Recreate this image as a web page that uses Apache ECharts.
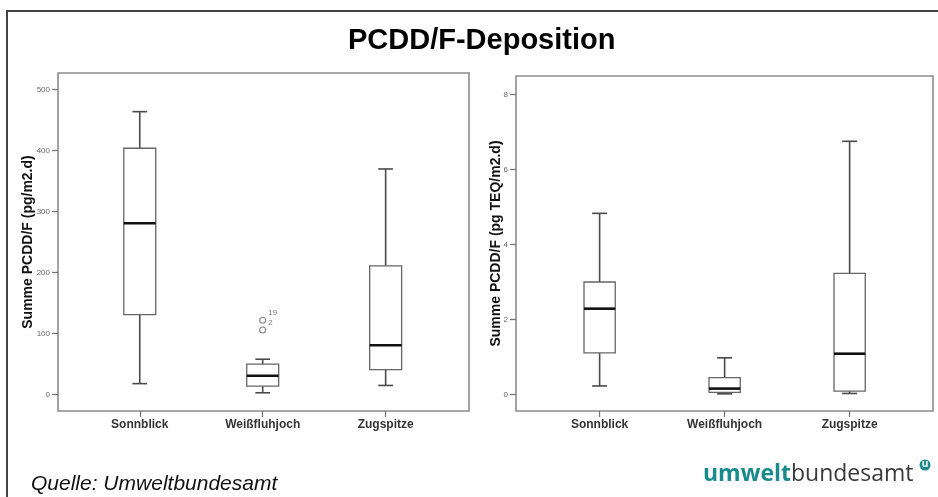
<!DOCTYPE html>
<html>
<head>
<meta charset="utf-8">
<script src="https://cdn.jsdelivr.net/npm/echarts@6/dist/echarts.min.js"></script>
<style>
html,body{margin:0;padding:0;background:#fff;}
#c{width:938px;height:497px;}
</style>
</head>
<body>
<div id="c"></div>
<script>
// ---------- data ----------
const categories = ['Sonnblick', 'Weißfluhjoch', 'Zugspitze'];

// Left panel: Summe PCDD/F (pg/m2.d)
const leftLow    = [18, 3, 15];
const leftQ1     = [131, 14, 41];
const leftMedian = [281, 31, 81];
const leftQ3     = [404, 50, 211];
const leftHigh   = [464, 58, 370];
const leftOutlierCat   = [2, 2];
const leftOutlierVal   = [122, 106];
const leftOutlierLabel = ['19', '2'];
const leftTicks  = [0, 100, 200, 300, 400, 500];

// Right panel: Summe PCDD/F (pg TEQ/m2.d)
const rightLow    = [0.23, 0.02, 0.03];
const rightQ1     = [1.11, 0.06, 0.09];
const rightMedian = [2.29, 0.16, 1.09];
const rightQ3     = [3.0, 0.45, 3.23];
const rightHigh   = [4.83, 0.98, 6.75];
const rightTicks  = [0, 2, 4, 6, 8];

const catPositions = [1, 2, 3];

function boxData(lo, q1, med, q3, hi) {
  return categories.map((c, i) => [catPositions[i], lo[i], q1[i], med[i], q3[i], hi[i]]);
}

function makeRender(boxW, capW) {
  return function (params, api) {
    const x = api.value(0);
    const lo = api.coord([x, api.value(1)]);
    const q1 = api.coord([x, api.value(2)]);
    const med = api.coord([x, api.value(3)]);
    const q3 = api.coord([x, api.value(4)]);
    const hi = api.coord([x, api.value(5)]);
    const bw = api.size([boxW, 0])[0];
    const cw = api.size([capW, 0])[0];
    const cx = lo[0];
    const whisk = { stroke: '#4a4a4a', lineWidth: 1.6 };
    return {
      type: 'group',
      children: [
        { type: 'line', shape: { x1: cx, y1: hi[1], x2: cx, y2: q3[1] }, style: whisk },
        { type: 'line', shape: { x1: cx, y1: q1[1], x2: cx, y2: lo[1] }, style: whisk },
        { type: 'line', shape: { x1: cx - cw / 2, y1: hi[1], x2: cx + cw / 2, y2: hi[1] }, style: whisk },
        { type: 'line', shape: { x1: cx - cw / 2, y1: lo[1], x2: cx + cw / 2, y2: lo[1] }, style: whisk },
        { type: 'rect', shape: { x: cx - bw / 2, y: q3[1], width: bw, height: q1[1] - q3[1] },
          style: { fill: '#fff', stroke: '#666', lineWidth: 1.3 } },
        { type: 'line', shape: { x1: cx - bw / 2, y1: med[1], x2: cx + bw / 2, y2: med[1] },
          style: { stroke: '#111', lineWidth: 2.6 } }
      ]
    };
  };
}

const axisFont = 'Liberation Sans, Arial, sans-serif';

function xAxisCfg(gridIndex, min, max) {
  return {
    type: 'value', gridIndex, min, max, position: 'bottom',
    axisLine: { show: false, onZero: false },
    splitLine: { show: false },
    axisTick: { show: true, customValues: catPositions, length: 6, lineStyle: { color: '#777', width: 1.3 } },
    axisLabel: {
      show: true, customValues: catPositions, margin: 8,
      formatter: v => categories[Math.round(v) - 1] || '',
      color: '#333', fontSize: 12, fontWeight: 'bold', fontFamily: axisFont
    }
  };
}

function yAxisCfg(gridIndex, min, max, ticks, name, nameGap) {
  return {
    type: 'value', gridIndex, min, max, position: 'left',
    name, nameLocation: 'middle', nameGap, nameMoveOverlap: false,
    nameTextStyle: { color: '#111', fontSize: 14, fontWeight: 'bold', fontFamily: axisFont },
    axisLine: { show: false, onZero: false },
    splitLine: { show: false },
    axisTick: { show: true, customValues: ticks, length: 6, lineStyle: { color: '#777', width: 1.3 } },
    axisLabel: { show: true, customValues: ticks, margin: 8, color: '#666', fontSize: 8, fontFamily: axisFont }
  };
}

const chart = echarts.init(document.getElementById('c'));
chart.setOption({
  animation: false,
  backgroundColor: '#fff',
  title: [
    { text: 'PCDD/F-Deposition', left: 343, top: 21,
      textStyle: { fontSize: 29, fontWeight: 'bold', color: '#000', fontFamily: axisFont } },
    { text: 'Quelle: Umweltbundesamt', left: 26, top: 469,
      textStyle: { fontSize: 21, fontWeight: 'normal', fontStyle: 'italic', color: '#111', fontFamily: axisFont } }
  ],
  grid: [
    { left: 58, top: 73, width: 411, height: 338, show: true, borderColor: '#8c8c8c', borderWidth: 1.6, backgroundColor: 'transparent' },
    { left: 516, top: 76, width: 417, height: 335, show: true, borderColor: '#8c8c8c', borderWidth: 1.6, backgroundColor: 'transparent' }
  ],
  xAxis: [
    xAxisCfg(0, 0.335, 3.678),
    xAxisCfg(1, 0.331, 3.667)
  ],
  yAxis: [
    yAxisCfg(0, -26.9, 527.4, leftTicks, 'Summe PCDD/F (pg/m2.d)', 23),
    yAxisCfg(1, -0.437, 8.49, rightTicks, 'Summe PCDD/F (pg TEQ/m2.d)', 13)
  ],
  series: [
    { type: 'custom', xAxisIndex: 0, yAxisIndex: 0,
      renderItem: makeRender(0.26, 0.12),
      encode: { x: 0, y: [1, 2, 3, 4, 5] },
      data: boxData(leftLow, leftQ1, leftMedian, leftQ3, leftHigh) },
    { type: 'scatter', xAxisIndex: 0, yAxisIndex: 0,
      symbol: 'circle', symbolSize: 6,
      itemStyle: { color: '#fff', borderColor: '#666', borderWidth: 1.1 },
      label: { show: true, position: 'right', distance: 2, offset: [0, -7],
        formatter: p => p.data[2], color: '#555', fontSize: 8, fontFamily: axisFont },
      data: leftOutlierCat.map((c, i) => [c, leftOutlierVal[i], leftOutlierLabel[i]]) },
    { type: 'custom', xAxisIndex: 1, yAxisIndex: 1,
      renderItem: makeRender(0.25, 0.12),
      encode: { x: 0, y: [1, 2, 3, 4, 5] },
      data: boxData(rightLow, rightQ1, rightMedian, rightQ3, rightHigh) }
  ],
  graphic: [
    { type: 'line', shape: { x1: 7, y1: 11, x2: 938, y2: 11 }, style: { stroke: '#444', lineWidth: 2 } },
    { type: 'line', shape: { x1: 7, y1: 10, x2: 7, y2: 497 }, style: { stroke: '#444', lineWidth: 2 } },
    { type: 'text', left: 703, top: 463,
      style: {
        text: '{a|umwelt}{b|bundesamt}',
        rich: {
          a: { fontSize: 23, fontWeight: 'bold', fill: '#1b8a8c', fontFamily: 'Open Sans' },
          b: { fontSize: 23, fontWeight: 'normal', fill: '#3a3a3a', fontFamily: 'Open Sans' }
        }
      } },
    { type: 'circle', shape: { cx: 925, cy: 465, r: 5.5 }, style: { fill: '#1b8a8c' } },
    { type: 'text', style: { text: 'u', x: 925, y: 464.5, align: 'center', verticalAlign: 'middle',
        fill: '#fff', fontSize: 10, fontWeight: 'bold', fontFamily: 'Open Sans' } }
  ]
});
</script>
</body>
</html>
